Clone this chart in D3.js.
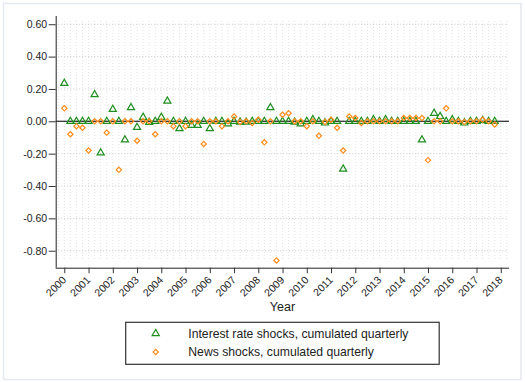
<!DOCTYPE html>
<html>
<head>
<meta charset="utf-8">
<script src="https://cdn.jsdelivr.net/npm/d3@7"></script>
<style>
  html, body { margin: 0; padding: 0; background: #ffffff; }
  svg { display: block; font-family: "Liberation Sans", Arial, sans-serif; }
</style>
</head>
<body>
<svg id="chart" width="525" height="382"></svg>
<script>
// Quarterly observations, 2000Q1 .. 2017Q4
const startYear = 2000;
const quarters = d3.range(72).map(i => startYear + i / 4);

// Interest rate shocks, cumulated quarterly
const interestRate = [
   0.235, 0,     0,     0,     0,     0.165, -0.195, 0,
   0.074, 0,    -0.115, 0.085, -0.037, 0.025, -0.006, 0,
   0.025, 0.125, 0,    -0.045,  0,    -0.025, -0.025, 0,
  -0.045, 0,     0,    -0.015,  0,    -0.005, -0.005, 0,
   0,     0,     0.085, 0,      0,     0,     -0.005, -0.015,
   0,     0.01,  0,    -0.01,   0,     0,     -0.295, 0,
   0,     0,     0,     0.01,   0,     0.01,   0,     0,
   0,     0,     0,    -0.115,  0,     0.05,   0.03,  0,
   0.01,  0,    -0.01,  0,      0,     0.005,  0,     0
];

// News shocks, cumulated quarterly
const newsShocks = [
   0.08, -0.08, -0.03, -0.04, -0.18,  0,     0,    -0.07,
   0,    -0.30,  0,     0,    -0.12,  0,     0,    -0.08,
   0,     0,    -0.03,  0,    -0.03,  0,     0,    -0.14,
   0,     0,    -0.03,  0,     0.03, -0.005, 0,    -0.01,
   0.01, -0.13,  0,    -0.86,  0.04,  0.05,  0,     0,
  -0.03,  0,    -0.09, -0.005, 0.01, -0.04, -0.18,  0.03,
   0.02, -0.01,  0,     0,     0,     0,     0,     0,
   0.02,  0.02,  0.02,  0.02, -0.24,  0,     0,     0.08,
   0,     0,    -0.005, 0,     0,     0.01,  0,    -0.02
];

const yTicks = [0.6, 0.4, 0.2, 0, -0.2, -0.4, -0.6, -0.8];
const xTicks = d3.range(2000, 2019);
const gridQuarters = d3.range(1999.75, 2018.26, 0.25);
const seriesLabels = ["Interest rate shocks, cumulated quarterly", "News shocks, cumulated quarterly"];
const xTitle = "Year";

const green = "#1f8f1f";
const orange = "#ff8c1a";

const svg = d3.select("#chart");

// light frame around the whole graph
svg.append("rect")
  .attr("x", 3.5).attr("y", 3.5)
  .attr("width", 517.5).attr("height", 376)
  .attr("fill", "#ffffff")
  .attr("stroke", "#e3e9ef").attr("stroke-width", 1.5);

const plot = { left: 55.7, right: 509, top: 16, bottom: 267.7 };

const x = d3.scaleLinear().domain([1999.645, 2018.34]).range([plot.left, plot.right]);
const y = d3.scaleLinear().domain([-0.905, 0.651]).range([plot.bottom, plot.top]);

// vertical quarterly grid (faint dots)
svg.append("g").selectAll("line")
  .data(gridQuarters).join("line")
  .attr("x1", d => x(d)).attr("x2", d => x(d))
  .attr("y1", y(0.62)).attr("y2", y(-0.86))
  .attr("stroke", "#dcdcdc").attr("stroke-width", 0.8)
  .attr("stroke-dasharray", "1,2");

// horizontal grid at major ticks
svg.append("g").selectAll("line")
  .data(yTicks).join("line")
  .attr("x1", x(1999.75)).attr("x2", x(2018.25))
  .attr("y1", d => y(d)).attr("y2", d => y(d))
  .attr("stroke", "#bdbdbd").attr("stroke-width", 0.8)
  .attr("stroke-dasharray", "1,2");

// zero reference line
svg.append("line")
  .attr("x1", plot.left).attr("x2", plot.right)
  .attr("y1", y(0)).attr("y2", y(0))
  .attr("stroke", "#000").attr("stroke-width", 1.1);

// y axis
const yAxis = svg.append("g")
  .attr("transform", `translate(${plot.left},0)`)
  .call(d3.axisLeft(y).tickValues(yTicks).tickSize(7).tickPadding(1.5)
        .tickFormat(d => d3.format(".2f")(d).replace("−", "-")));
yAxis.select(".domain").attr("d", `M0.5,${plot.top}V${plot.bottom}`).attr("stroke", "#222");
yAxis.selectAll(".tick line").attr("stroke", "#333");
yAxis.selectAll(".tick text").attr("font-size", 10.5).attr("fill", "#222")
  .attr("font-family", "'Liberation Sans', Arial, sans-serif");

// x axis
const xAxis = svg.append("g")
  .attr("transform", `translate(0,${plot.bottom})`)
  .call(d3.axisBottom(x).tickValues(xTicks).tickSize(5.5).tickFormat(d3.format("d")));
xAxis.select(".domain").attr("d", `M${plot.left},0.5H${plot.right}`).attr("stroke", "#222");
xAxis.selectAll(".tick line").attr("stroke", "#333");
xAxis.selectAll(".tick text")
  .attr("font-size", 10.5).attr("fill", "#222")
  .attr("font-family", "'Liberation Sans', Arial, sans-serif")
  .attr("text-anchor", "end")
  .attr("y", 0).attr("dy", 0)
  .attr("transform", "translate(2,13) rotate(-45)");

// x title
svg.append("text")
  .attr("x", 282.5).attr("y", 311)
  .attr("text-anchor", "middle")
  .attr("font-size", 12.5).attr("fill", "#222")
  .text(xTitle);

// markers
const tri = d3.symbol().type(d3.symbolTriangle).size(22);
const dia = d3.symbol().type(d3.symbolSquare).size(14);

svg.append("g").selectAll("path")
  .data(quarters.map((q, i) => [q, interestRate[i]])).join("path")
  .attr("d", tri)
  .attr("transform", d => `translate(${x(d[0])},${y(d[1])})`)
  .attr("fill", "none").attr("stroke", green).attr("stroke-width", 1.2);

svg.append("g").selectAll("path")
  .data(quarters.map((q, i) => [q, newsShocks[i]])).join("path")
  .attr("d", dia)
  .attr("transform", d => `translate(${x(d[0])},${y(d[1])}) rotate(45)`)
  .attr("fill", "none").attr("stroke", orange).attr("stroke-width", 1.2);

// legend
const legend = svg.append("g");
legend.append("rect")
  .attr("x", 125.7).attr("y", 322.3)
  .attr("width", 313.5).attr("height", 42)
  .attr("fill", "#fff").attr("stroke", "#333").attr("stroke-width", 1.2);

const legendRows = [
  { label: seriesLabels[0], color: green, sym: tri, rot: 0, cy: 333.5 },
  { label: seriesLabels[1], color: orange, sym: dia, rot: 45, cy: 352 }
];
legendRows.forEach(r => {
  legend.append("path")
    .attr("d", r.sym)
    .attr("transform", `translate(155.7,${r.cy}) rotate(${r.rot})`)
    .attr("fill", "none").attr("stroke", r.color).attr("stroke-width", 1.2);
  legend.append("text")
    .attr("x", 188.3).attr("y", r.cy + 4.4)
    .attr("font-size", 12.2).attr("fill", "#222")
    .text(r.label);
});
</script>
</body>
</html>
